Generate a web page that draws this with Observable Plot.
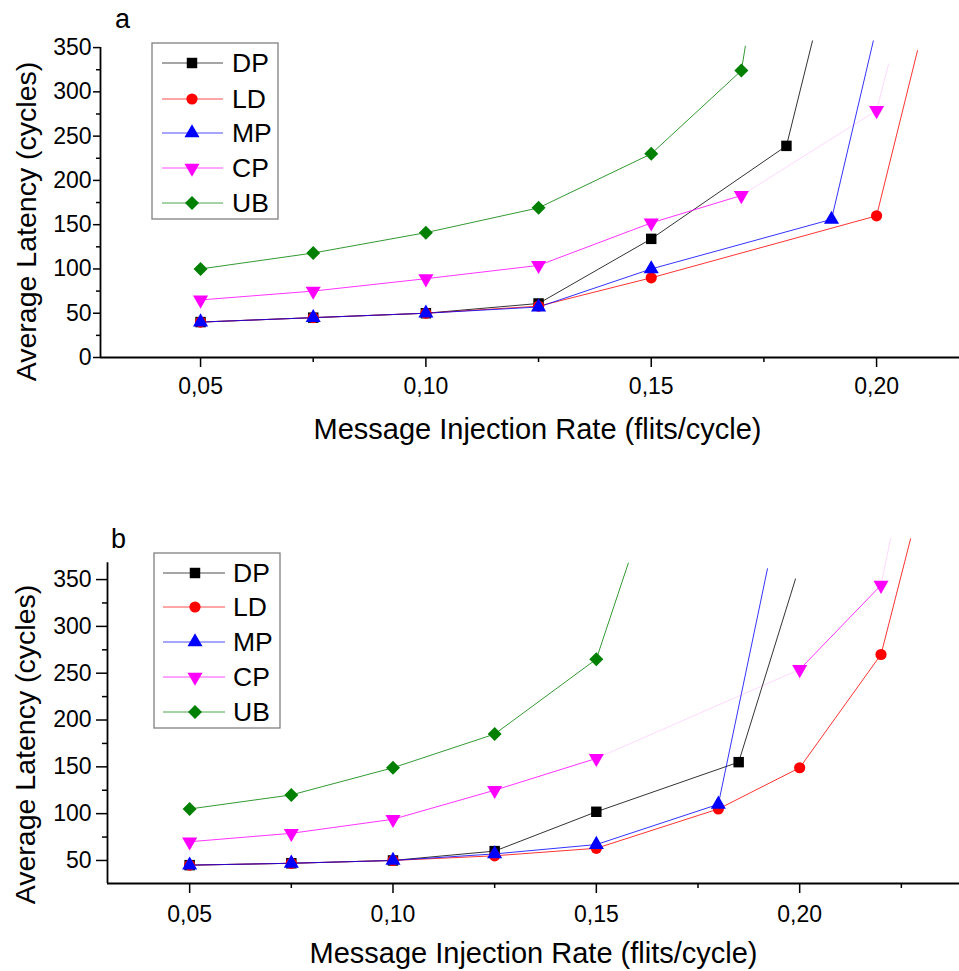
<!DOCTYPE html>
<html>
<head>
<meta charset="utf-8">
<script src="https://cdn.jsdelivr.net/npm/d3@7"></script>
<script src="https://cdn.jsdelivr.net/npm/@observablehq/plot@0.6"></script>
<style>
  html, body { margin: 0; padding: 0; background: #fff; }
  #page { position: relative; width: 959px; height: 971px; overflow: hidden; background: #fff; }
  #page > svg, #page > figure { position: absolute; left: 0; margin: 0; }
</style>
</head>
<body>
<div id="page"></div>
<script>
// ---------- data ----------
const seriesNames = ["DP", "LD", "MP", "CP", "UB"];
const seriesColors = ["#000000", "#ff0000", "#0000ff", "#ff00ff", "#008000"];
const xTickValues = [0.05, 0.10, 0.15, 0.20];

// Panel a
const aDPRate = [0.05, 0.075, 0.10, 0.125, 0.15, 0.18];
const aDPLat  = [40, 45, 50, 61, 134, 239];
const aLDRate = [0.05, 0.075, 0.10, 0.125, 0.15, 0.20];
const aLDLat  = [40, 45, 50, 58, 90, 160];
const aMPRate = [0.05, 0.075, 0.10, 0.125, 0.15, 0.19];
const aMPLat  = [40, 45, 50, 57, 100, 156];
const aCPRate = [0.05, 0.075, 0.10, 0.125, 0.15, 0.17, 0.20];
const aCPLat  = [65, 75, 89, 104, 152, 183, 279];
const aUBRate = [0.05, 0.075, 0.10, 0.125, 0.15, 0.17];
const aUBLat  = [100, 118, 141, 169, 230, 324];
// where each curve leaves the panel (line continues, no marker)
const aTailRate = [0.1858, 0.2091, 0.1993, 0.2027, 0.1709];
const aTailLat  = [358, 347, 358, 332, 352];

// Panel b
const bDPRate = [0.05, 0.075, 0.10, 0.125, 0.15, 0.185];
const bDPLat  = [45, 47, 50, 60, 102, 155];
const bLDRate = [0.05, 0.075, 0.10, 0.125, 0.15, 0.18, 0.20, 0.22];
const bLDLat  = [45, 47, 50, 55, 63, 105, 149, 270];
const bMPRate = [0.05, 0.075, 0.10, 0.125, 0.15, 0.18];
const bMPLat  = [45, 47, 50, 57, 67, 110];
const bCPRate = [0.05, 0.075, 0.10, 0.125, 0.15, 0.20, 0.22];
const bCPLat  = [70, 79, 94, 125, 159, 254, 344];
const bUBRate = [0.05, 0.075, 0.10, 0.125, 0.15];
const bUBLat  = [105, 120, 149, 185, 265];
const bTailRate = [0.1990, 0.2273, 0.1921, 0.2224, 0.1579];
const bTailLat  = [351, 394, 362, 395, 368];

// ---------- symbols ----------
const triangleDown = {
  draw(context, size) {
    const y = -Math.sqrt(size / (Math.sqrt(3) * 3));
    context.moveTo(0, -y * 2);
    context.lineTo(-Math.sqrt(3) * y, y);
    context.lineTo(Math.sqrt(3) * y, y);
    context.closePath();
  }
};
const seriesSymbols = [d3.symbolSquare, d3.symbolCircle, d3.symbolTriangle, triangleDown, d3.symbolDiamond2];
const seriesR = [5.9, 5.6, 5.6, 5.6, 6.3];

const FONT = "'Liberation Sans', Arial, Helvetica, sans-serif";
const fmt = d => d.toFixed(2).replace(".", ",");

function panel(p) {
  const segRows = [];
  const dotMarks = [];
  p.series.forEach((s, i) => {
    const name = seriesNames[i];
    const pts = s.rate.map((r, j) => ({rate: r, lat: s.lat[j]}));
    const all = pts.concat([{rate: p.tailRate[i], lat: p.tailLat[i]}]);
    const faint = (p.faint[name] || []);
    for (let j = 0; j + 1 < all.length; j++) {
      segRows.push({
        series: name, color: seriesColors[i],
        r1: all[j].rate, l1: all[j].lat, r2: all[j + 1].rate, l2: all[j + 1].lat,
        op: faint.includes(all[j].rate) ? 0.15 : 0.8
      });
    }
    dotMarks.push(Plot.dot(pts, {x: "rate", y: "lat", symbol: seriesSymbols[i], r: seriesR[i], fill: seriesColors[i], stroke: "none"}));
  });
  return Plot.plot({
    width: 959,
    height: p.height,
    marginLeft: p.marginLeft,
    marginRight: 0,
    marginTop: p.marginTop,
    marginBottom: p.marginBottom,
    x: {domain: p.xDomain},
    y: {domain: p.yDomain},
    style: {fontFamily: FONT, fontSize: "23px", color: "#000", background: "transparent", overflow: "visible"},
    marks: [
      Plot.axisX({ticks: xTickValues, tickSize: 10, tickPadding: p.xPad, tickFormat: fmt, fontSize: 23, strokeWidth: 1.5, label: null}),
      Plot.axisX({ticks: p.xMinor, tickSize: 5, tickFormat: () => "", strokeWidth: 1.5, label: null}),
      Plot.axisY({ticks: p.yMajor, tickSize: p.ySize, tickPadding: p.yPad, fontSize: 23, strokeWidth: 1.5, label: null}),
      Plot.axisY({ticks: p.yMinor, tickSize: p.yMinorSize, tickFormat: () => "", strokeWidth: 1.5, label: null}),
      Plot.ruleY([p.yDomain[0]], {stroke: "#000", strokeWidth: 1.8}),
      Plot.ruleX([p.xDomain[0]], {y1: p.yDomain[0], y2: p.axisTop, stroke: "#000", strokeWidth: 1.8}),
      Plot.link(segRows, {x1: "r1", y1: "l1", x2: "r2", y2: "l2", stroke: d => d.color, strokeOpacity: "op", strokeWidth: 1}),
      ...dotMarks,
      Plot.text(["Average Latency (cycles)"], {frameAnchor: "left", rotate: -90, textAnchor: "middle", lineAnchor: "middle", dx: p.yTitleDx, dy: p.yTitleDy, fontSize: 28.5}),
      Plot.text(["Message Injection Rate (flits/cycle)"], {frameAnchor: "bottom", textAnchor: "middle", lineAnchor: "middle", dx: p.xTitleDx, dy: p.xTitleDy, fontSize: 29}),
      Plot.text([p.letter], {frameAnchor: "top-left", textAnchor: "middle", lineAnchor: "middle", dx: p.letterDx, dy: p.letterDy, fontSize: 27})
    ]
  });
}

const page = document.getElementById("page");

const chartA = panel({
  letter: "a", height: 480, marginLeft: 100, marginTop: 40, marginBottom: 123,
  xDomain: [0.0278, 0.2184], yDomain: [0, 358], axisTop: 350,
  yMajor: d3.range(0, 351, 50), yMinor: d3.range(25, 330, 50),
  xMinor: [0.075, 0.125, 0.175],
  xPad: 10, ySize: 7, yPad: 2, yMinorSize: 4,
  yTitleDx: -74, yTitleDy: 22.5, xTitleDx: 7.5, xTitleDy: 72, letterDx: 22, letterDy: -21.3,
  faint: {CP: [0.17, 0.20]},
  series: [
    {rate: aDPRate, lat: aDPLat}, {rate: aLDRate, lat: aLDLat}, {rate: aMPRate, lat: aMPLat},
    {rate: aCPRate, lat: aCPLat}, {rate: aUBRate, lat: aUBLat}
  ],
  tailRate: aTailRate, tailLat: aTailLat
});
chartA.style.top = "0px";
page.appendChild(chartA);

const chartB = panel({
  letter: "b", height: 491, marginLeft: 107, marginTop: 56, marginBottom: 88,
  xDomain: [0.0298, 0.2393], yDomain: [25.4, 396], axisTop: 368,
  yMajor: d3.range(50, 351, 50), yMinor: d3.range(75, 330, 50),
  xMinor: [0.075, 0.125, 0.175, 0.225],
  xPad: 12, ySize: 11, yPad: 5, yMinorSize: 5,
  yTitleDx: -82, yTitleDy: 34.5, xTitleDx: 0, xTitleDy: 70.7, letterDx: 11, letterDy: 3.3,
  faint: {CP: [0.15, 0.22]},
  series: [
    {rate: bDPRate, lat: bDPLat}, {rate: bLDRate, lat: bLDLat}, {rate: bMPRate, lat: bMPLat},
    {rate: bCPRate, lat: bCPLat}, {rate: bUBRate, lat: bUBLat}
  ],
  tailRate: bTailRate, tailLat: bTailLat
});
chartB.style.top = "480px";
page.appendChild(chartB);

// ---------- legends (overlay) ----------
const legendSvg = d3.create("svg")
  .attr("width", 959).attr("height", 971)
  .style("position", "absolute").style("left", "0px").style("top", "0px")
  .style("pointer-events", "none")
  .style("font-family", FONT);

function drawLegend(box, rowY, lineX0, lineX1, markX, textX) {
  legendSvg.append("rect")
    .attr("x", box[0]).attr("y", box[1]).attr("width", box[2] - box[0]).attr("height", box[3] - box[1])
    .attr("fill", "#fff").attr("stroke", "#808080").attr("stroke-width", 1.3);
  seriesNames.forEach((name, i) => {
    const y = rowY[i];
    legendSvg.append("line").attr("x1", lineX0).attr("x2", lineX1).attr("y1", y).attr("y2", y)
      .attr("stroke", seriesColors[i]).attr("stroke-width", 1).attr("stroke-opacity", 0.7);
    const r = seriesR[i];
    legendSvg.append("path")
      .attr("d", d3.symbol(seriesSymbols[i], r * r * Math.PI)())
      .attr("transform", `translate(${markX},${y})`)
      .attr("fill", seriesColors[i]);
    legendSvg.append("text").attr("x", textX).attr("y", y).attr("dy", "0.35em")
      .attr("font-size", 26.5).attr("fill", "#000").text(name);
  });
}
drawLegend([152, 43, 278, 219], [63, 99, 133, 168, 203], 162, 223, 192, 232);
drawLegend([154, 553, 280, 728], [573, 607, 642, 677, 712], 163, 225, 195, 233);
page.appendChild(legendSvg.node());
</script>
</body>
</html>
